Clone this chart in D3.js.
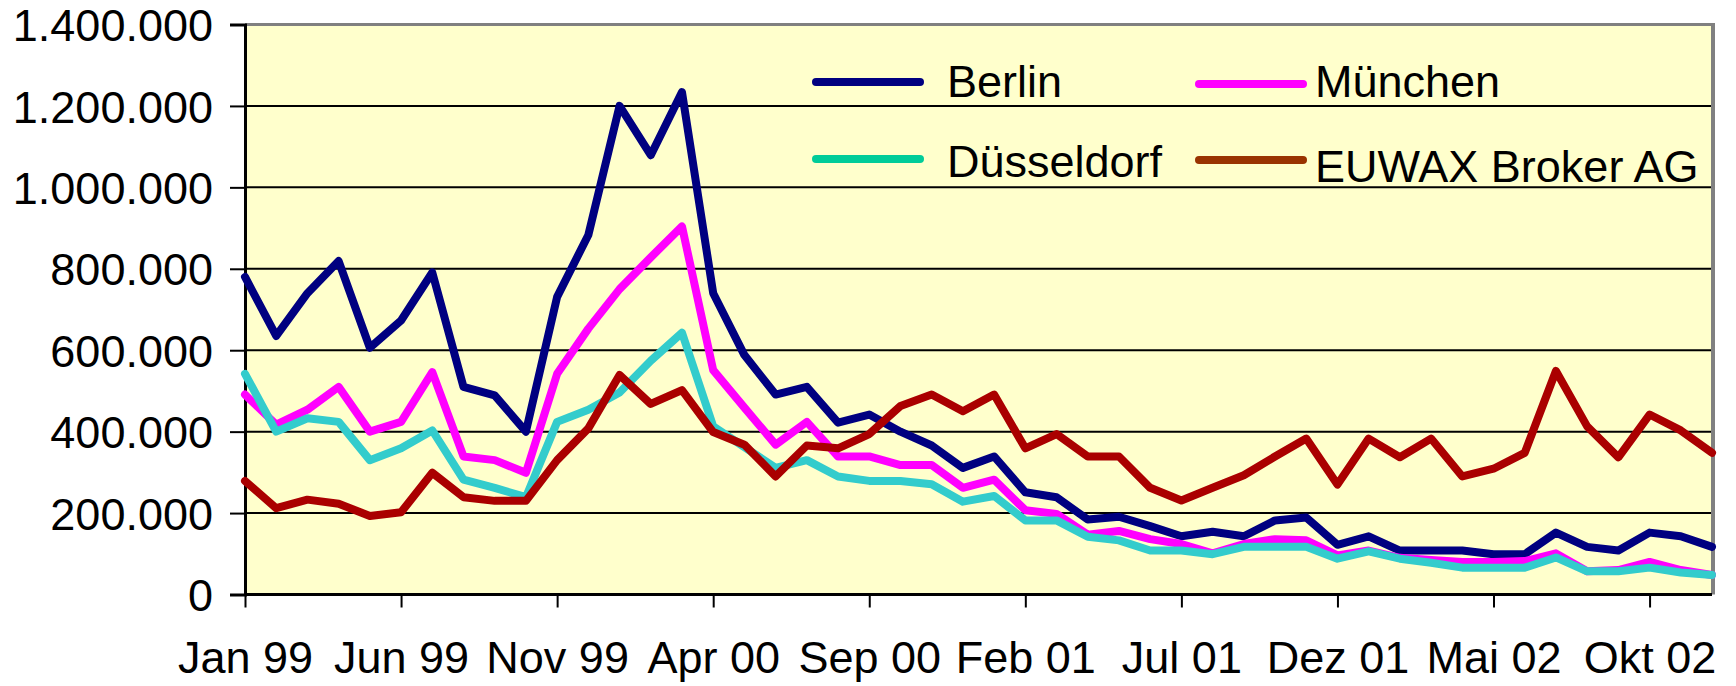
<!DOCTYPE html>
<html><head><meta charset="utf-8">
<script src="https://cdn.jsdelivr.net/npm/d3@7"></script>
<style>body{margin:0;background:#fff}svg{display:block}text{font-family:"Liberation Sans",Arial,sans-serif;fill:#000}</style>
</head><body>
<svg id="c" width="1736" height="686"></svg>
<script>
const months = ["Jan 99","Feb 99","Mär 99","Apr 99","Mai 99","Jun 99","Jul 99","Aug 99","Sep 99","Okt 99","Nov 99","Dez 99",
"Jan 00","Feb 00","Mär 00","Apr 00","Mai 00","Jun 00","Jul 00","Aug 00","Sep 00","Okt 00","Nov 00","Dez 00",
"Jan 01","Feb 01","Mär 01","Apr 01","Mai 01","Jun 01","Jul 01","Aug 01","Sep 01","Okt 01","Nov 01","Dez 01",
"Jan 02","Feb 02","Mär 02","Apr 02","Mai 02","Jun 02","Jul 02","Aug 02","Sep 02","Okt 02","Nov 02","Dez 02"];
const tickLabels = ["Jan 99","Jun 99","Nov 99","Apr 00","Sep 00","Feb 01","Jul 01","Dez 01","Mai 02","Okt 02"];
const yTicks = [0,200000,400000,600000,800000,1000000,1200000,1400000];
const berlin = [780,635,740,819,606,673,791,510,489,400,731,883,1200,1079,1234,740,588,491,510,422,442,400,366,311,339,251,239,184,191,168,143,154,143,182,189,122,143,108,108,108,99,99,152,117,108,152,143,117];
const muenchen = [491,417,454,510,400,424,546,339,330,299,542,653,750,828,904,551,459,368,424,339,339,318,318,262,282,207,198,147,156,136,124,101,124,136,133,96,108,90,85,80,80,82,101,57,60,80,60,48];
const duesseldorf = [542,400,433,424,330,359,403,282,262,239,424,454,496,574,643,413,362,311,330,290,279,279,271,228,242,182,182,142,133,108,108,99,117,117,117,88,106,88,78,66,66,66,91,57,57,66,54,48];
const euwax = [279,212,233,223,193,202,299,239,230,230,330,408,539,468,502,399,368,290,366,359,394,463,491,450,491,359,394,339,339,262,231,262,293,339,383,270,383,337,383,290,309,348,549,413,337,442,403,348];
const seriesNames = ["Berlin","München","Düsseldorf","EUWAX Broker AG"];
const seriesColors = ["#000080","#FF00FF","#33CCCC","#AA0000"];
const legendColors = ["#000080","#FF00FF","#00CC99","#993300"];
const seriesData = [berlin, muenchen, duesseldorf, euwax];

const svg = d3.select("#c");
const L = 245, R = 1712, T = 24.5, B = 594.5;
const FS = 45;
const x = d3.scaleLinear().domain([0, months.length - 1]).range([L, R]);
const y = d3.scaleLinear().domain([0, 1400000]).range([B, T]);

svg.append("rect").attr("x", L).attr("y", T).attr("width", R - L).attr("height", B - T).attr("fill", "#FFFFCC");

// gridlines
svg.append("g").selectAll("line").data(yTicks.slice(1, -1)).join("line")
  .attr("x1", L).attr("x2", R).attr("y1", d => y(d)).attr("y2", d => y(d))
  .attr("stroke", "#000").attr("stroke-width", 2);

// plot border top/right
svg.append("line").attr("x1", L).attr("x2", R + 2).attr("y1", T).attr("y2", T).attr("stroke", "#808080").attr("stroke-width", 3);
svg.append("line").attr("x1", R + 1).attr("x2", R + 1).attr("y1", T - 1.5).attr("y2", B).attr("stroke", "#808080").attr("stroke-width", 4);

// y axis
const yAxis = d3.axisLeft(y).tickValues(yTicks).tickSize(15).tickPadding(17)
  .tickFormat(d => d3.format(",")(d).replace(/,/g, "."));
const gy = svg.append("g").attr("transform", `translate(${L},0)`).call(yAxis);
gy.select(".domain").attr("stroke", "#000").attr("stroke-width", 3);
gy.selectAll(".tick line").attr("stroke", "#000").attr("stroke-width", 2);
gy.selectAll(".tick text").attr("font-size", FS).attr("font-family", "Liberation Sans, Arial, sans-serif").attr("fill", "#000").attr("dy", "0.36em");

// x axis
const tickIdx = tickLabels.map(t => months.indexOf(t));
const xAxis = d3.axisBottom(x).tickValues(tickIdx).tickSize(13).tickPadding(34)
  .tickFormat(i => months[i]);
const gx = svg.append("g").attr("transform", `translate(0,${B})`).call(xAxis);
gx.select(".domain").attr("stroke", "#000").attr("stroke-width", 3).attr("d", `M${L},0H${R}`);
gx.selectAll(".tick line").attr("stroke", "#000").attr("stroke-width", 2);
gx.selectAll(".tick text").attr("font-size", FS).attr("font-family", "Liberation Sans, Arial, sans-serif").attr("fill", "#000").attr("dy", "0.71em");

// lines
const line = d3.line().x((d, i) => x(i)).y(d => y(d * 1000));
seriesData.forEach((s, k) => {
  svg.append("path").datum(s).attr("d", line).attr("fill", "none")
    .attr("stroke", seriesColors[k]).attr("stroke-width", 8)
    .attr("stroke-linejoin", "round").attr("stroke-linecap", "round");
});

// legend
const legPos = [
  {lx: 816, ly: 82, tx: 947, ty: 97},
  {lx: 1199, ly: 84, tx: 1315, ty: 97},
  {lx: 816, ly: 159, tx: 947, ty: 177},
  {lx: 1199, ly: 160, tx: 1315, ty: 182}
];
const lg = svg.append("g");
seriesNames.forEach((n, k) => {
  const p = legPos[k];
  lg.append("line").attr("x1", p.lx).attr("x2", p.lx + 104).attr("y1", p.ly).attr("y2", p.ly)
    .attr("stroke", legendColors[k]).attr("stroke-width", 8).attr("stroke-linecap", "round");
  lg.append("text").attr("x", p.tx).attr("y", p.ty).attr("font-size", FS).text(n);
});
</script>
</body></html>
